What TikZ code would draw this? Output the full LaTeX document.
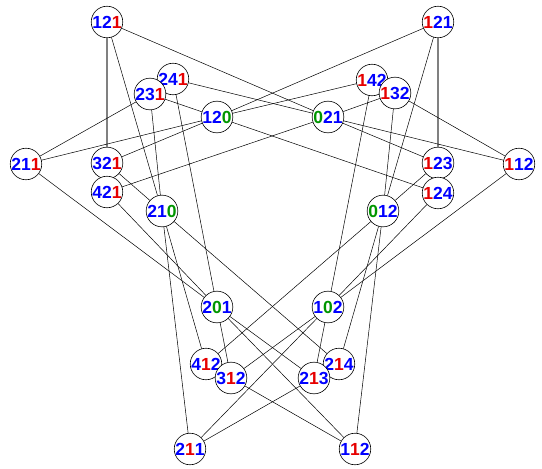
\documentclass[tikz,border=0pt]{standalone}
\usepackage{fontspec}
\setmainfont{Liberation Sans}
\definecolor{dblue}{RGB}{0,0,255}
\definecolor{dred}{RGB}{230,0,0}
\definecolor{dgreen}{RGB}{0,150,0}
\newcommand{\Bd}[1]{\textcolor{dblue}{#1}}
\newcommand{\Rd}[1]{\textcolor{dred}{#1}}
\newcommand{\Gd}[1]{\textcolor{dgreen}{#1}}
\tikzset{
  vtx/.style={circle, draw=black, line width=0.6pt, fill=white, minimum size=28pt, inner sep=0pt,
    font=\fontsize{17.5}{17.5}\selectfont\bfseries},
  edge/.style={draw=black, line width=0.5pt},
  gedge/.style={draw=black!50, line width=1.2pt}
}
\begin{document}
\begin{tikzpicture}[x=1pt,y=-1pt]
\useasboundingbox (0,0) rectangle (542,469);
% left nodes
\node[vtx] (a121) at (107,22) {\Bd{12}\Rd{1}};
\node[vtx] (a241) at (173,79) {\Bd{24}\Rd{1}};
\node[vtx] (a231) at (150,94) {\Bd{23}\Rd{1}};
\node[vtx] (a120) at (217,117) {\Bd{12}\Gd{0}};
\node[vtx] (a211) at (26,164) {\Bd{21}\Rd{1}};
\node[vtx] (a321) at (107,163) {\Bd{32}\Rd{1}};
\node[vtx] (a421) at (107,192) {\Bd{42}\Rd{1}};
\node[vtx] (a210) at (162,211) {\Bd{21}\Gd{0}};
\node[vtx] (a201) at (217,307) {\Bd{2}\Gd{0}\Bd{1}};
\node[vtx] (a412) at (206,364) {\Bd{4}\Rd{1}\Bd{2}};
\node[vtx] (a312) at (231,378) {\Bd{3}\Rd{1}\Bd{2}};
\node[vtx] (a211b) at (190,449) {\Bd{2}\Rd{1}\Bd{1}};
% right nodes
\node[vtx] (b121) at (438,22) {\Rd{1}\Bd{21}};
\node[vtx] (b142) at (372,80) {\Rd{1}\Bd{42}};
\node[vtx] (b132) at (395,93) {\Rd{1}\Bd{32}};
\node[vtx] (b021) at (328,117) {\Gd{0}\Bd{21}};
\node[vtx] (b112) at (519,164) {\Rd{1}\Bd{12}};
\node[vtx] (b123) at (438,163) {\Rd{1}\Bd{23}};
\node[vtx] (b124) at (438,193) {\Rd{1}\Bd{24}};
\node[vtx] (b012) at (383,211) {\Gd{0}\Bd{12}};
\node[vtx] (b102) at (328,307) {\Bd{1}\Gd{0}\Bd{2}};
\node[vtx] (b214) at (339,364) {\Bd{2}\Rd{1}\Bd{4}};
\node[vtx] (b213) at (314,378) {\Bd{2}\Rd{1}\Bd{3}};
\node[vtx] (b112b) at (355,449) {\Bd{1}\Rd{1}\Bd{2}};
% edges
\path[gedge] (a121) -- (a321);
\path[gedge] (b121) -- (b123);
\path[edge] (a121) -- (a210) (a210) -- (a412);
\path[edge] (a121) -- (b021);
\path[edge] (a241) -- (b021);
\path[edge] (a241) -- (a201) (a201) -- (a312);
\path[edge] (a231) -- (a120);
\path[edge] (a231) -- (a211);
\path[edge] (a231) -- (a210) (a210) -- (a211b);
\path[edge] (a120) -- (a211);
\path[edge] (a120) -- (a321);
\path[edge] (a120) -- (b124);
\path[edge] (a120) -- (b142);
\path[edge] (a120) -- (b121);
\path[edge] (a321) -- (a210) (a210) -- (b214);
\path[edge] (a421) -- (b021);
\path[edge] (a421) -- (a201) (a201) -- (b112b);
\path[edge] (a211) -- (a201) (a201) -- (b213);
\path[edge] (b121) -- (b012) (b012) -- (b214);
\path[edge] (b142) -- (b102) (b102) -- (b213);
\path[edge] (b132) -- (b021);
\path[edge] (b132) -- (b112);
\path[edge] (b132) -- (b012) (b012) -- (b112b);
\path[edge] (b021) -- (b112);
\path[edge] (b021) -- (b123);
\path[edge] (b123) -- (b012) (b012) -- (a412);
\path[edge] (b124) -- (b102) (b102) -- (a211b);
\path[edge] (b112) -- (b102) (b102) -- (a312);
\path[edge] (a312) -- (b112b);
\path[edge] (b213) -- (a211b);
\end{tikzpicture}
\end{document}
